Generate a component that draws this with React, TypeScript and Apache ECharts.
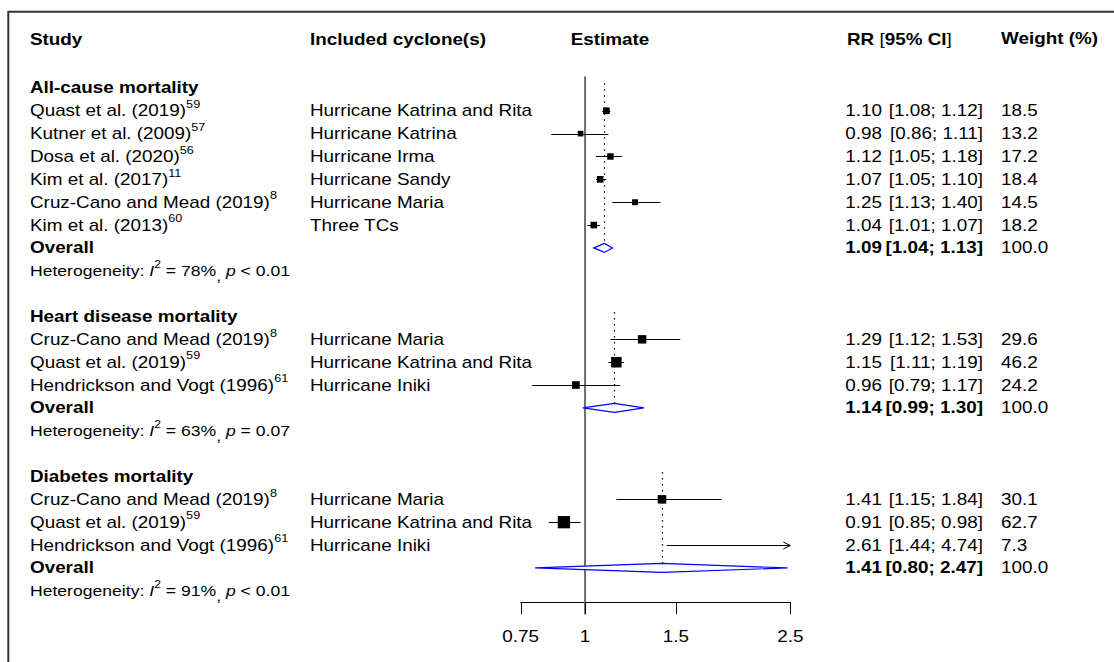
import React, { useEffect, useRef } from "react";
import * as echarts from "echarts";

const FONT = '"Liberation Sans", Arial, Helvetica, sans-serif';

// ---------------- data ----------------
const groupTitles = ["All-cause mortality", "Heart disease mortality", "Diabetes mortality"];
const studyNames = [
  ["Quast et al. (2019)", "Kutner et al. (2009)", "Dosa et al. (2020)", "Kim et al. (2017)", "Cruz-Cano and Mead (2019)", "Kim et al. (2013)"],
  ["Cruz-Cano and Mead (2019)", "Quast et al. (2019)", "Hendrickson and Vogt (1996)"],
  ["Cruz-Cano and Mead (2019)", "Quast et al. (2019)", "Hendrickson and Vogt (1996)"],
];
const studyRefs = [
  ["59", "57", "56", "11", "8", "60"],
  ["8", "59", "61"],
  ["8", "59", "61"],
];
const cyclones = [
  ["Hurricane Katrina and Rita", "Hurricane Katrina", "Hurricane Irma", "Hurricane Sandy", "Hurricane Maria", "Three TCs"],
  ["Hurricane Maria", "Hurricane Katrina and Rita", "Hurricane Iniki"],
  ["Hurricane Maria", "Hurricane Katrina and Rita", "Hurricane Iniki"],
];
const rr = [
  [1.10, 0.98, 1.12, 1.07, 1.25, 1.04],
  [1.29, 1.15, 0.96],
  [1.41, 0.91, 2.61],
];
const rrLower = [
  [1.08, 0.86, 1.05, 1.05, 1.13, 1.01],
  [1.12, 1.11, 0.79],
  [1.15, 0.85, 1.44],
];
const rrUpper = [
  [1.12, 1.11, 1.18, 1.10, 1.40, 1.07],
  [1.53, 1.19, 1.17],
  [1.84, 0.98, 4.74],
];
const weights = [
  [18.5, 13.2, 17.2, 18.4, 14.5, 18.2],
  [29.6, 46.2, 24.2],
  [30.1, 62.7, 7.3],
];
const pooledRR = [1.09, 1.14, 1.41];
const pooledLower = [1.04, 0.99, 0.80];
const pooledUpper = [1.13, 1.30, 2.47];
const pooledWeight = [100.0, 100.0, 100.0];
const hetI2 = ["78%", "63%", "91%"];
const hetP = ["< 0.01", "= 0.07", "< 0.01"];
const xTicks = [0.75, 1, 1.5, 2.5];
const xMin = 0.75;
const xMax = 2.5;
const headerStudy = "Study";
const headerCyclone = "Included cyclone(s)";
const headerEstimate = "Estimate";
const headerRR = ["RR", "95% CI"];
const headerWeight = "Weight (%)";

// ---------------- layout / style ----------------
const LN_MIN = Math.log(xMin);
const LN_MAX = Math.log(xMax);
const SX = 1.15;
const FS = 16.4;
const FS_HET = 15.3;
const COL = { study: 30, cyclone: 310, estimate: 610, est: 882, ci: 983, weight: 1001, rrHead: 847 };

const RICH: any = {
  b: { fontSize: FS, fontFamily: FONT, fontWeight: "bold", fontStyle: "normal", lineHeight: 24, fill: "#000" },
  n: { fontSize: FS, fontFamily: FONT, fontWeight: "normal", fontStyle: "normal", lineHeight: 24, fill: "#000" },
  sup: { fontSize: 11, fontFamily: FONT, fontWeight: "normal", fontStyle: "normal", lineHeight: 12, verticalAlign: "top", fill: "#000" },
  it: { fontSize: FS_HET, fontFamily: FONT, fontWeight: "normal", fontStyle: "italic", lineHeight: 24, fill: "#000" },
  hsup: { fontSize: 10.5, fontFamily: FONT, fontWeight: "normal", fontStyle: "normal", lineHeight: 11, verticalAlign: "top", fill: "#000" },
  lo: { fontSize: FS_HET, fontFamily: FONT, fontWeight: "normal", fontStyle: "normal", lineHeight: 16, verticalAlign: "bottom", fill: "#000" },
};

function mkText(x: number, y: number, text: string, o: any = {}) {
  return {
    type: "text",
    x,
    y,
    scaleX: SX,
    style: {
      text,
      fontFamily: FONT,
      fontSize: o.fontSize ?? FS,
      fontWeight: o.bold ? "bold" : "normal",
      fill: "#000",
      align: o.align ?? "left",
      verticalAlign: "middle",
      lineHeight: 24,
      rich: RICH,
    },
  };
}

// ---------------- rows ----------------
type Row = { kind: string; g: number; k: number; row: number };
const tableRows: Row[] = [{ kind: "header", g: -1, k: -1, row: -2.1 }];
const studyPoints: number[][] = [];
const pooledPoints: number[][] = [];
const refLines: number[][] = [];
let r = 0;
groupTitles.forEach((_, g) => {
  const titleRow = r;
  tableRows.push({ kind: "title", g, k: -1, row: r });
  studyNames[g].forEach((__, k) => {
    r++;
    tableRows.push({ kind: "study", g, k, row: r });
    studyPoints.push([Math.log(rr[g][k]), r, Math.log(rrLower[g][k]), Math.log(rrUpper[g][k]), weights[g][k]]);
  });
  r++;
  tableRows.push({ kind: "overall", g, k: -1, row: r });
  pooledPoints.push([Math.log(pooledRR[g]), r, Math.log(pooledLower[g]), Math.log(pooledUpper[g])]);
  refLines.push([Math.log(pooledRR[g]), titleRow - 0.2, r - 0.2]);
  r++;
  tableRows.push({ kind: "het", g, k: -1, row: r });
  r += 2;
});
const lastRow = r - 2;
const axisRow = lastRow + 0.5;

function buildOption() {
  const renderTable = (params: any, api: any) => {
    const t = tableRows[params.dataIndex];
    const y = api.coord([0, api.value(1)])[1];
    const ch: any[] = [];
    if (t.kind === "header") {
      ch.push(mkText(COL.study, y, headerStudy, { bold: true }));
      ch.push(mkText(COL.cyclone, y, headerCyclone, { bold: true }));
      ch.push(mkText(COL.estimate, y, headerEstimate, { bold: true, align: "center" }));
      ch.push(mkText(COL.rrHead, y, `{b|${headerRR[0]}} [{b|${headerRR[1]}}]`));
      ch.push(mkText(COL.weight, y - 1.5, headerWeight, { bold: true }));
    } else if (t.kind === "title") {
      ch.push(mkText(COL.study, y, groupTitles[t.g], { bold: true }));
    } else if (t.kind === "study") {
      const g = t.g, k = t.k;
      ch.push(mkText(COL.study, y, `${studyNames[g][k]}{sup|${studyRefs[g][k]}}`));
      ch.push(mkText(COL.cyclone, y, cyclones[g][k]));
      ch.push(mkText(COL.est, y, rr[g][k].toFixed(2), { align: "right" }));
      ch.push(mkText(COL.ci, y, `[${rrLower[g][k].toFixed(2)}; ${rrUpper[g][k].toFixed(2)}]`, { align: "right" }));
      ch.push(mkText(COL.weight, y, weights[g][k].toFixed(1)));
    } else if (t.kind === "overall") {
      const g = t.g;
      ch.push(mkText(COL.study, y, "Overall", { bold: true }));
      ch.push(mkText(COL.est, y, pooledRR[g].toFixed(2), { align: "right", bold: true }));
      ch.push(mkText(COL.ci, y, `[${pooledLower[g].toFixed(2)}; ${pooledUpper[g].toFixed(2)}]`, { align: "right", bold: true }));
      ch.push(mkText(COL.weight, y, pooledWeight[g].toFixed(1)));
    } else if (t.kind === "het") {
      const g = t.g;
      ch.push(
        mkText(COL.study, y, `Heterogeneity: {it|I}{hsup|2} = ${hetI2[g]}{lo|,} {it|p} ${hetP[g]}`, { fontSize: FS_HET })
      );
    }
    return { type: "group", children: ch };
  };

  const renderStudies = (params: any, api: any) => {
    const est = api.value(0), row = api.value(1), lo = api.value(2), hi = api.value(3), w = api.value(4);
    const y = api.coord([0, row])[1];
    const yc = Math.round(y) + 0.5;
    const xl = api.coord([Math.max(lo, LN_MIN), row])[0];
    const xh = api.coord([Math.min(hi, LN_MAX), row])[0];
    const ch: any[] = [
      { type: "line", shape: { x1: xl, y1: yc, x2: xh, y2: yc }, style: { stroke: "#000", lineWidth: 1 } },
    ];
    if (hi > LN_MAX) {
      ch.push({ type: "polyline", shape: { points: [[xh - 7, yc - 3.5], [xh, yc], [xh - 7, yc + 3.5]] }, style: { stroke: "#000", fill: null, lineWidth: 1 } });
    }
    if (lo < LN_MIN) {
      ch.push({ type: "polyline", shape: { points: [[xl + 7, yc - 3.5], [xl, yc], [xl + 7, yc + 3.5]] }, style: { stroke: "#000", fill: null, lineWidth: 1 } });
    }
    if (est >= LN_MIN && est <= LN_MAX) {
      const xe = api.coord([est, row])[0];
      const s = 1.55 * Math.sqrt(w);
      ch.push({ type: "rect", shape: { x: xe - s / 2, y: y - s / 2, width: s, height: s }, style: { fill: "#000" } });
    }
    return { type: "group", children: ch };
  };

  const renderDiamonds = (params: any, api: any) => {
    const row = api.value(1);
    const [xe, y] = api.coord([api.value(0), row]);
    const xl = api.coord([api.value(2), row])[0];
    const xh = api.coord([api.value(3), row])[0];
    const h = 4.5;
    return {
      type: "polygon",
      shape: { points: [[xl, y], [xe, y - h], [xh, y], [xe, y + h]] },
      style: { stroke: "#0000ff", fill: "#fff", lineWidth: 1.2 },
    };
  };

  const renderRefLines = (params: any, api: any) => {
    const p1 = api.coord([api.value(0), api.value(1)]);
    const p2 = api.coord([api.value(0), api.value(2)]);
    const x = Math.round(p1[0]) + 0.5;
    return {
      type: "line",
      shape: { x1: x, y1: p1[1], x2: x, y2: p2[1] },
      style: { stroke: "#000", lineWidth: 1.2, lineDash: [1.5, 4.5] },
    };
  };

  const renderNull = (params: any, api: any) => {
    const p1 = api.coord([api.value(0), api.value(1)]);
    const p2 = api.coord([api.value(0), api.value(2)]);
    return {
      type: "line",
      shape: { x1: p1[0], y1: p1[1], x2: p2[0], y2: p2[1] + 12 },
      style: { stroke: "#6e6e6e", lineWidth: 2 },
    };
  };

  const renderTicks = (params: any, api: any) => {
    const p = api.coord([api.value(0), api.value(1)]);
    const x = Math.round(p[0]) + 0.5;
    return {
      type: "group",
      children: [
        { type: "line", shape: { x1: x, y1: p[1], x2: x, y2: p[1] + 12 }, style: { stroke: "#000", lineWidth: 1 } },
        mkText(p[0], p[1] + 34, String(xTicks[params.dataIndex]), { align: "center" }),
      ],
    };
  };

  return {
    animation: false,
    backgroundColor: "#fff",
    grid: { left: 520.6, right: 323.7, top: 42.2, bottom: 59.8, outerBoundsMode: "none", containLabel: false },
    xAxis: {
      type: "value",
      min: LN_MIN,
      max: LN_MAX,
      axisLine: { show: true, onZero: false, lineStyle: { color: "#000", width: 1 } },
      axisTick: { show: false },
      axisLabel: { show: false },
      splitLine: { show: false },
    },
    yAxis: { type: "value", inverse: true, min: -2, max: axisRow, show: false, splitLine: { show: false } },
    graphic: [
      {
        type: "rect",
        shape: { x: 8.3, y: 11.7, width: 1200, height: 700 },
        style: { fill: null, stroke: "#333", lineWidth: 2 },
        z: 100,
      },
    ],
    series: [
      { type: "custom", coordinateSystem: "cartesian2d", data: [[0, -0.5, axisRow]], encode: { x: 0, y: 1 }, renderItem: renderNull, z: 1 },
      { type: "custom", coordinateSystem: "cartesian2d", data: refLines, encode: { x: 0, y: 1 }, renderItem: renderRefLines, z: 2 },
      { type: "custom", coordinateSystem: "cartesian2d", data: pooledPoints, encode: { x: 0, y: 1 }, renderItem: renderDiamonds, z: 3 },
      { type: "custom", coordinateSystem: "cartesian2d", data: studyPoints, encode: { x: 0, y: 1 }, renderItem: renderStudies, z: 4 },
      { type: "custom", coordinateSystem: "cartesian2d", data: xTicks.map((t) => [Math.log(t), axisRow]), encode: { x: 0, y: 1 }, renderItem: renderTicks, z: 5 },
      { type: "custom", coordinateSystem: "cartesian2d", data: tableRows.map((t) => [0, t.row]), encode: { x: 0, y: 1 }, renderItem: renderTable, z: 6 },
    ],
  };
}

export default function App() {
  const ref = useRef<HTMLDivElement>(null);
  useEffect(() => {
    const chart = echarts.init(ref.current!, null, { renderer: "svg" });
    chart.setOption(buildOption() as any);
    return () => chart.dispose();
  }, []);
  return (
    <div
      ref={ref}
      style={{ position: "fixed", left: 0, top: 0, width: 1114, height: 662, background: "#fff" }}
    />
  );
}
